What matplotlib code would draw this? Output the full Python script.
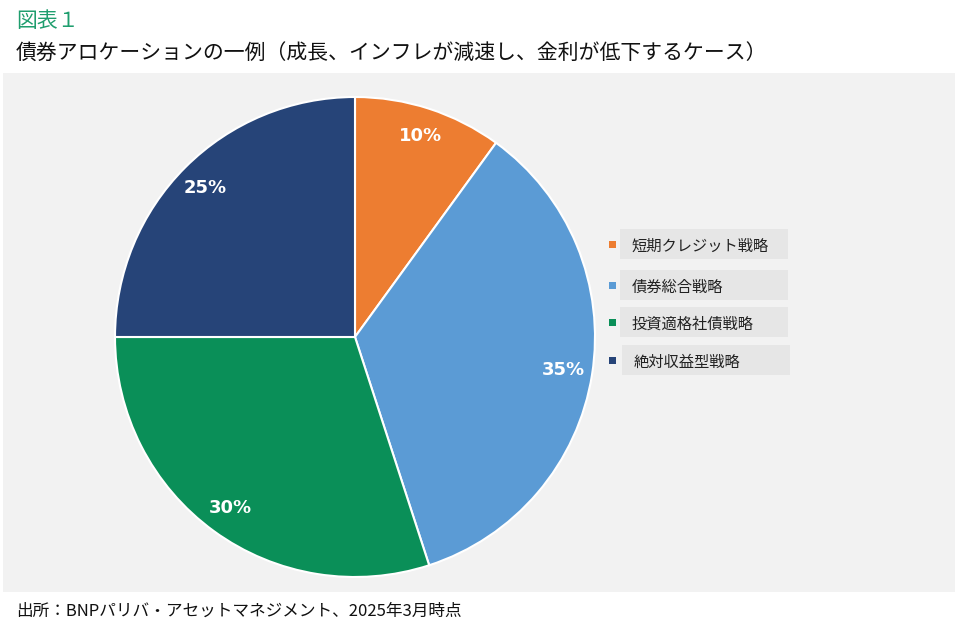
import matplotlib.pyplot as plt
from matplotlib.patches import Rectangle

plt.rcParams['font.family'] = ['Noto Sans CJK JP', 'DejaVu Sans']

# data
labels = ["短期クレジット戦略", "債券総合戦略", "投資適格社債戦略", "絶対収益型戦略"]
shares = [10, 35, 30, 25]
colors = ["#ED7D31", "#5B9BD5", "#0A8F58", "#264478"]

W, H = 961, 634
fig = plt.figure(figsize=(W / 100, H / 100), dpi=100)
fig.patch.set_facecolor("white")


def fx(px):
    return px / W


def fy(py):
    return 1 - py / H


# gray panel
fig.patches.append(Rectangle((fx(3), fy(592)), fx(952), 519 / H,
                             transform=fig.transFigure, facecolor="#F2F2F2",
                             edgecolor="none", zorder=0))

# pie
cx, cy, r = 355, 337, 240
ax = fig.add_axes([fx(cx - r), fy(cy + r), 2 * r / W, 2 * r / H])
ax.set_zorder(5)
ax.set_facecolor("none")
wedges, texts, autotexts = ax.pie(
    shares, colors=colors, startangle=90, counterclock=False,
    autopct="%d%%", pctdistance=0.88,
    wedgeprops=dict(edgecolor="white", linewidth=1.5),
    textprops=dict(color="white", fontsize=13, fontweight="bold",
                   family=["DejaVu Sans"]))
ax.set_xlim(-1, 1)
ax.set_ylim(-1, 1)
ax.set_aspect("equal")
ax.axis("off")

# legend with gray boxes
rows_y = [244, 285, 322, 360]
box_x = [620, 620, 620, 622]
for lab, col, yy, bx in zip(labels, colors, rows_y, box_x):
    fig.patches.append(Rectangle((fx(bx), fy(yy + 15)), fx(168), 30 / H,
                                 transform=fig.transFigure, facecolor="#E6E6E6",
                                 edgecolor="none", zorder=1))
    fig.patches.append(Rectangle((fx(609), fy(yy + 4)), fx(7), 7 / H,
                                 transform=fig.transFigure, facecolor=col,
                                 edgecolor="none", zorder=2))
    fig.text(fx(bx + 12), fy(yy + 2), lab, fontsize=11, color="#222222",
             va="center", ha="left", zorder=3)

# titles
fig.text(fx(16), fy(21), "図表１", fontsize=15, color="#1F9E6E",
         va="center", ha="left")
fig.text(fx(16), fy(54), "債券アロケーションの一例（成長、インフレが減速し、金利が低下するケース）",
         fontsize=15, color="#111111", va="center", ha="left")
fig.text(fx(16), fy(611), "出所：BNPパリバ・アセットマネジメント、2025年3月時点",
         fontsize=12, color="#111111", va="center", ha="left")

fig.savefig("out.png", dpi=100)
